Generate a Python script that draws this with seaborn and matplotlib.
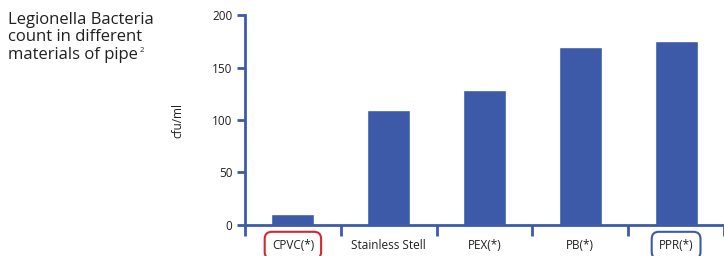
import numpy as np
import pandas as pd
import matplotlib
matplotlib.use('Agg')
import matplotlib.pyplot as plt
import seaborn as sns

sns.set_style(style='white')
plt.rcParams['font.family'] = ['Open Sans', 'DejaVu Sans']

materials = ['CPVC(*)', 'Stainless Stell', 'PEX(*)', 'PB(*)', 'PPR(*)']
counts = [10, 110, 129, 170, 175]
y_ticks = [0, 50, 100, 150, 200]
title_lines = ['Legionella Bacteria', 'count in different', 'materials of pipe']

blue = '#3d5aa8'
red = '#d7262e'
ink = '#231f20'

df = pd.DataFrame({'material': materials, 'cfu': counts})

fig = plt.figure(figsize=(7.24, 2.56), dpi=100)
ax = fig.add_axes([0.3384, 0.1211, 0.6616, 0.8203])

sns.barplot(data=df, x='material', y='cfu', color=blue, saturation=1,
            width=0.45, ax=ax, order=materials)

ax.set_xlim(-0.5, 4.45)
ax.set_ylim(0, 200)
ax.set_yticks(y_ticks)
ax.set_xlabel(None)
ax.set_ylabel('cfu/ml', fontsize=8.5, color=ink, labelpad=20)

for side in ['top', 'right']:
    ax.spines[side].set_visible(False)
for side in ['left', 'bottom']:
    ax.spines[side].set_color(blue)
    ax.spines[side].set_linewidth(2)

ax.tick_params(axis='y', which='major', direction='out', length=6, width=2,
               color=blue, labelsize=8.5, labelcolor=ink, pad=3, left=True)
ax.tick_params(axis='x', which='major', length=0, labelsize=8.5,
               labelcolor=ink, pad=10)
ax.set_xticks(np.arange(-0.5, 5, 1), minor=True)
ax.tick_params(axis='x', which='minor', direction='out', length=8, width=2,
               color=blue, bottom=True)

labels = ax.get_xticklabels()
labels[0].set_bbox(dict(boxstyle='round,pad=0.6,rounding_size=0.6', fc='none', ec=red, lw=1.5))
labels[4].set_bbox(dict(boxstyle='round,pad=0.6,rounding_size=0.6', fc='none', ec=blue, lw=1.5))

# title block, one text per line so the superscript can sit after the last one
line_h = 17.5 / 256
last = None
for i, line in enumerate(title_lines):
    last = fig.text(0.011, 0.955 - i * line_h, line, fontsize=12, color=ink,
                    va='top', ha='left')
fig.canvas.draw()
bb = last.get_window_extent().transformed(fig.transFigure.inverted())
fig.text(bb.x1 + 0.002, bb.y1 - 0.03, '2', fontsize=5.5, color=ink,
         va='bottom', ha='left')

plt.savefig('out.png', dpi=100)
